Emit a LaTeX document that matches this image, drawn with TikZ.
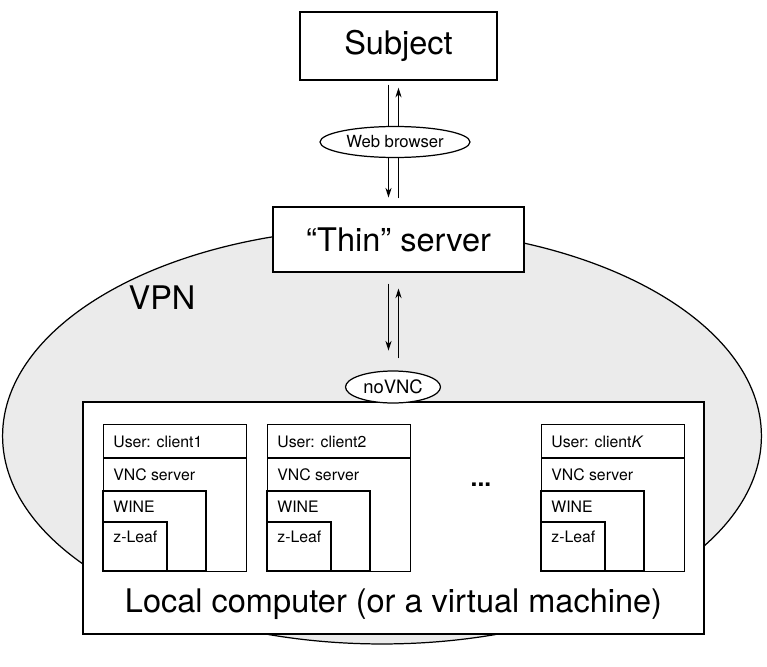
\documentclass[tikz,border=0pt]{standalone}
\usepackage{fontspec}
\setmainfont{TeX Gyre Heros}
\usetikzlibrary{shapes.geometric,arrows.meta}
\definecolor{vpngray}{gray}{0.92}
\tikzset{
  box/.style={draw, line width=0.8pt, fill=white, inner sep=0pt},
  tag/.style={draw, ellipse, fill=white, line width=0.7pt, inner sep=0pt},
  flow/.style={-{Stealth[length=5.5pt,width=3.5pt]}, line width=0.6pt},
  big/.style={font=\fontsize{18.5}{22}\selectfont},
  small/.style={font=\fontsize{9}{11}\selectfont, inner sep=0pt},
}
\begin{document}
\begin{tikzpicture}[x=0.02cm, y=-0.02cm] % 1 unidad = 1 pixel

    \useasboundingbox (0,0) rectangle (767,666);

    % Red VPN
    \node[draw, ellipse, fill=vpngray, line width=0.7pt, minimum width=15.18cm, minimum height=8.32cm] (vpn) at (382,436) {};
    \node[big] (vpnlabel) at (162,298) {VPN};

    % Cajas principales
    \node[box, big, minimum width=3.94cm, minimum height=1.36cm] (subject) at (398.5,46) {Subject};
    \node[box, big, minimum width=5.02cm, minimum height=1.3cm] (thin) at (398.5,239.5) {``Thin'' server};
    \node[box, minimum width=12.42cm, minimum height=4.64cm] (local) at (393.5,518) {};
    \node[big] (localtext) at (393.5,604) {Local computer (or a virtual machine)};

    % Flechas entre sujeto y servidor
    \draw[flow, shorten <=2.3pt, shorten >=5pt] ([xshift=-0.2cm]subject.south) -- ([xshift=-0.2cm]thin.north);
    \draw[flow, shorten <=4.5pt, shorten >=4pt] (thin.north) -- (subject.south);
    \node[tag, small, font=\fontsize{9.5}{11}\selectfont, minimum width=3cm, minimum height=0.62cm] (browser) at (395,142) {Web browser};

    % Flechas entre servidor y noVNC
    \node[tag, small, font=\fontsize{10.5}{12}\selectfont, minimum width=1.9cm, minimum height=0.64cm] (novnc) at (393,387) {noVNC};
    \draw[flow, shorten <=6.2pt, shorten >=11.3pt] ([xshift=-0.2cm]thin.south) -- ([xshift=-0.2cm]thin.south |- novnc.north);
    \draw[flow, shorten <=6.8pt, shorten >=9pt] (thin.south |- novnc.north) -- (thin.south);

    % Usuarios
    \foreach \x/\i/\n in {103/1/client1, 267/2/client2, 541/K/client\textit{K}} {
        \node[box, minimum width=2.86cm, minimum height=2.94cm, anchor=north west] (user\i) at (\x,424) {};
        \draw[line width=0.8pt] (\x,458) -- (\x+143,458);
        \draw[line width=0.8pt] (\x,491) rectangle (\x+103,571); % WINE
        \draw[line width=0.8pt] (\x,522) rectangle (\x+64,571); % z-Leaf
        \node[small, anchor=west] (name\i) at (\x+10,442) {User: \n};
        \node[small, anchor=west] (vnc\i) at (\x+10,475) {VNC server};
        \node[small, anchor=west] (wine\i) at (\x+10,507) {WINE};
        \node[small, anchor=west] (zleaf\i) at (\x+10,537) {z-Leaf};
    }
    \node[font=\bfseries\fontsize{14}{14}\selectfont] (dots) at (481,485) {...};

\end{tikzpicture}
\end{document}
